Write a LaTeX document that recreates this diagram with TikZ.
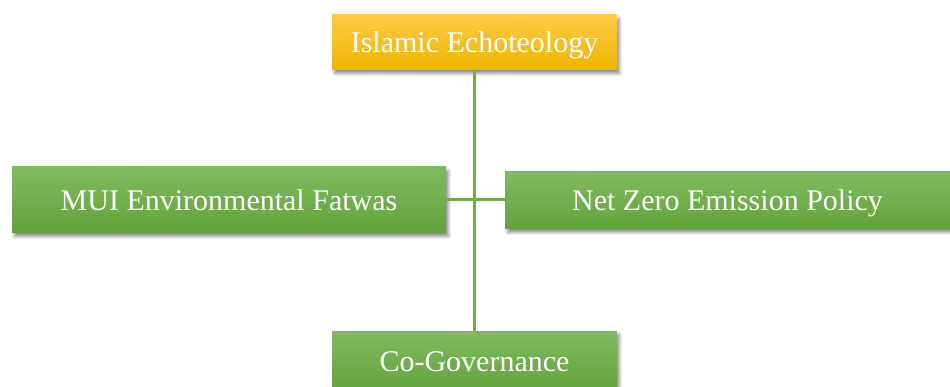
\documentclass[tikz,border=0pt]{standalone}
\usepackage{fontspec}
\setmainfont{Liberation Serif}
\usetikzlibrary{positioning, shadows.blur}
\definecolor{cGoldTop}{HTML}{FFCA45}
\definecolor{cGoldBot}{HTML}{EEB600}
\definecolor{cGreenTop}{HTML}{80BA60}
\definecolor{cGreenBot}{HTML}{62A33A}
\definecolor{cLink}{HTML}{70AD47}
\tikzset{
  box/.style={rectangle, draw=none, text=white, align=center,
    font=\fontsize{30}{36}\selectfont, inner sep=0pt, text depth=0pt,
    blur shadow={shadow xshift=2.5pt, shadow yshift=-3.5pt,
      shadow blur steps=6, shadow blur radius=3pt, shadow opacity=45}},
  rootbox/.style={box, top color=cGoldTop, bottom color=cGoldBot,
    minimum width=285pt, minimum height=55pt},
  leafbox/.style={box, top color=cGreenTop, bottom color=cGreenBot},
  link/.style={draw=cLink, line width=3pt},
}

\begin{document}
\begin{tikzpicture}[x=1pt, y=-1pt]

  \useasboundingbox (0,0) rectangle (950,387);

  % ----------------------------------------------------------------
  % Boxes
  % ----------------------------------------------------------------
  \node[rootbox] (eco) at (474.5,42.5) {Islamic Echoteology};

  \node[leafbox, minimum width=434pt, minimum height=66pt] (fatwa)
    at (229,200) {MUI Environmental Fatwas};

  \node[leafbox, minimum width=445pt, minimum height=57pt] (netzero)
    at (727.5,200.5) {Net Zero Emission Policy};

  \node[leafbox, minimum width=285pt, minimum height=62pt] (cogov)
    at (474.5,362) {Co-Governance};

  % ----------------------------------------------------------------
  % Links
  % ----------------------------------------------------------------
  \begin{scope}[on background layer/.try]
    \draw[link] (eco.south) -- (cogov.north);
    \draw[link] (fatwa.east) -- (netzero.west |- fatwa.east);
  \end{scope}

\end{tikzpicture}
\end{document}
